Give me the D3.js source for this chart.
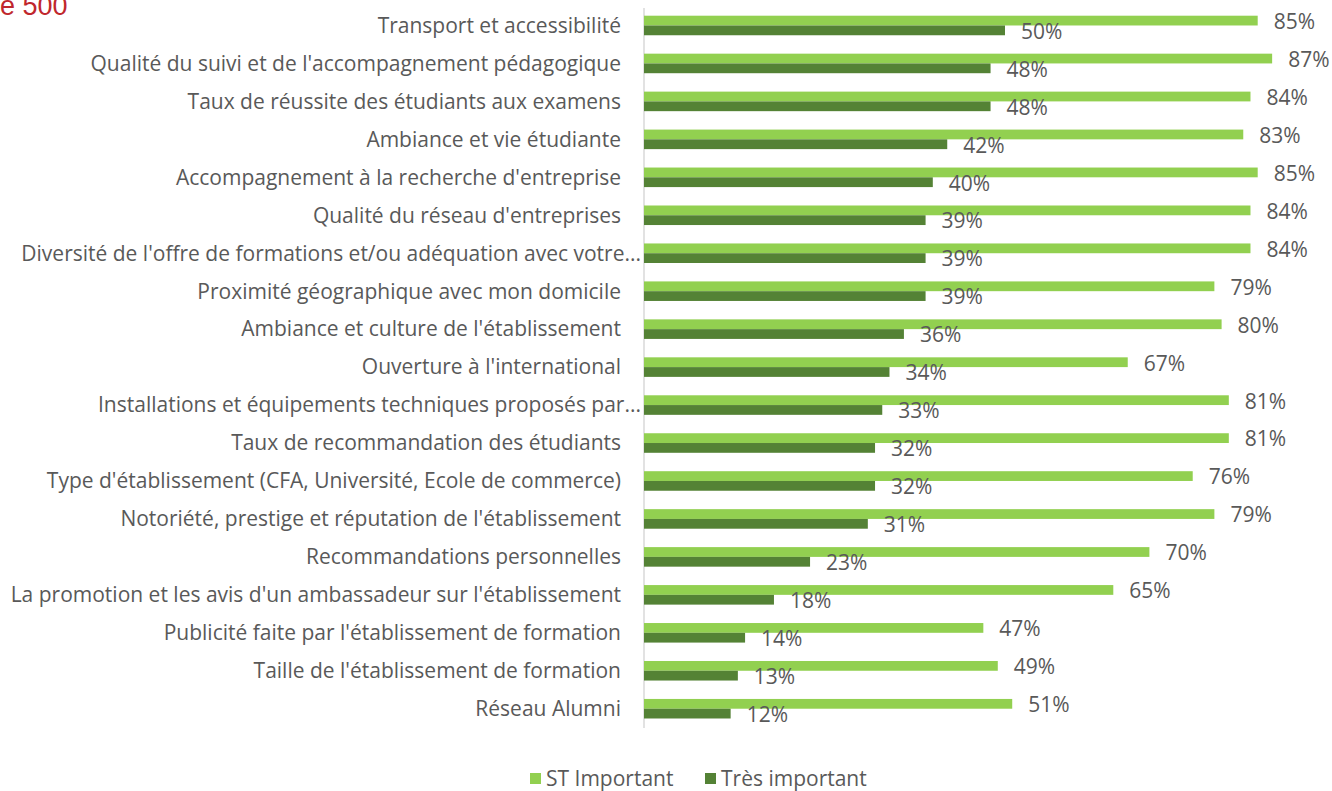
<!DOCTYPE html>
<html>
<head>
<meta charset="utf-8">
<script src="https://cdn.jsdelivr.net/npm/d3@7"></script>
<style>
  body { margin: 0; background: #fff; }
  svg { display: block; }
  text { font-family: "Open Sans", sans-serif; fill: #595959; }
</style>
</head>
<body>
<svg id="chart" width="1332" height="791"></svg>
<script>
"use strict";

const categories = [
    "Transport et accessibilité",
    "Qualité du suivi et de l'accompagnement pédagogique",
    "Taux de réussite des étudiants aux examens",
    "Ambiance et vie étudiante",
    "Accompagnement à la recherche d'entreprise",
    "Qualité du réseau d'entreprises",
    "Diversité de l'offre de formations et/ou adéquation avec votre...",
    "Proximité géographique avec mon domicile",
    "Ambiance et culture de l'établissement",
    "Ouverture à l'international",
    "Installations et équipements techniques proposés par...",
    "Taux de recommandation des étudiants",
    "Type d'établissement (CFA, Université, Ecole de commerce)",
    "Notoriété, prestige et réputation de l'établissement",
    "Recommandations personnelles",
    "La promotion et les avis d'un ambassadeur sur l'établissement",
    "Publicité faite par l'établissement de formation",
    "Taille de l'établissement de formation",
    "Réseau Alumni"
];

const stImportant = [85, 87, 84, 83, 85, 84, 84, 79, 80, 67, 81, 81, 76, 79, 70, 65, 47, 49, 51];
const tresImportant = [50, 48, 48, 42, 40, 39, 39, 39, 36, 34, 33, 32, 32, 31, 23, 18, 14, 13, 12];

const seriesNames = ["ST Important", "Très important"];
const seriesColors = ["#92D050", "#548235"];

const svg = d3.select("#chart");

// clipped title remnant at the top left
svg.append("text")
    .attr("x", 0)
    .attr("y", 15)
    .style("font-family", "'Liberation Sans', Arial, sans-serif")
    .style("font-size", "27px")
    .style("fill", "#C0272D")
    .text("e 500");

const x = d3.scaleLinear().domain([0, 100]).range([644, 644 + 722]);

const pad = 0.485;
const y = d3.scaleBand()
    .domain(categories)
    .range([6.5, 727.7])
    .paddingInner(pad)
    .paddingOuter(pad / 2);

const ySub = d3.scaleBand()
    .domain(seriesNames)
    .range([0, y.bandwidth()]);

const rows = categories.map((c, i) => ({
    cat: c,
    vals: [stImportant[i], tresImportant[i]]
}));

// vertical axis line
svg.append("line")
    .attr("x1", x(0)).attr("x2", x(0))
    .attr("y1", 8).attr("y2", 728)
    .attr("stroke", "#d9d9d9")
    .attr("stroke-width", 1.5);

// category labels
svg.append("g")
    .selectAll("text")
    .data(rows)
    .join("text")
    .attr("x", d => d.cat.endsWith("...") ? 641 : 621)
    .attr("y", d => y(d.cat) + y.bandwidth() / 2)
    .attr("dy", "0.35em")
    .attr("text-anchor", "end")
    .style("font-size", "21px")
    .text(d => d.cat);

const groups = svg.append("g")
    .selectAll("g")
    .data(rows)
    .join("g")
    .attr("transform", d => `translate(0,${y(d.cat)})`);

const cells = groups.selectAll("g")
    .data(d => d.vals.map((v, j) => ({ v: v, s: seriesNames[j], j: j })))
    .join("g");

cells.append("rect")
    .attr("x", x(0))
    .attr("y", d => ySub(d.s))
    .attr("width", d => x(d.v) - x(0))
    .attr("height", ySub.bandwidth())
    .attr("fill", d => seriesColors[d.j]);

cells.append("text")
    .attr("x", d => x(d.v) + 16)
    .attr("y", d => ySub(d.s) + ySub.bandwidth() / 2 + 1)
    .attr("dy", "0.35em")
    .style("font-size", "21px")
    .text(d => d.v + "%");

// legend
const legend = svg.append("g")
    .selectAll("g")
    .data(seriesNames)
    .join("g")
    .attr("transform", (d, i) => `translate(${i == 0 ? 530 : 705},773)`);

legend.append("rect")
    .attr("width", 11)
    .attr("height", 11)
    .attr("fill", (d, i) => seriesColors[i]);

legend.append("text")
    .attr("x", 16)
    .attr("y", 6)
    .attr("dy", "0.35em")
    .style("font-size", "21px")
    .text(d => d);
</script>
</body>
</html>
